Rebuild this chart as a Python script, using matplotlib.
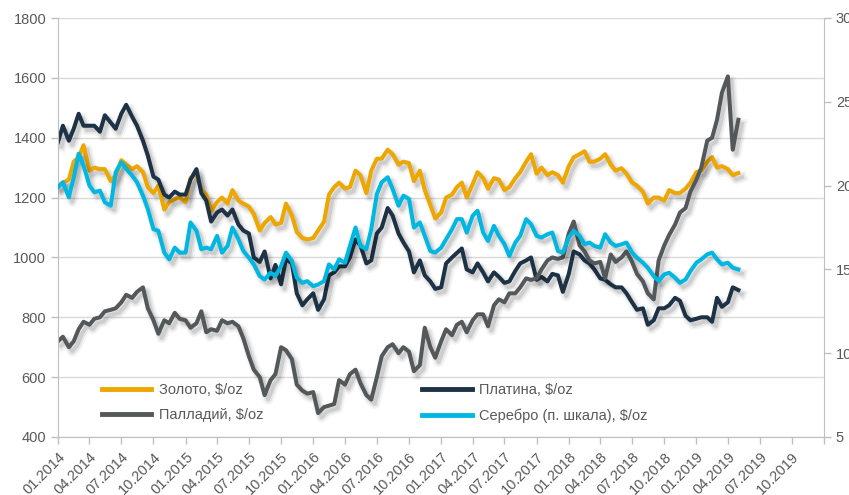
import matplotlib
matplotlib.use("Agg")
import matplotlib.pyplot as plt
import matplotlib.dates as mdates
from matplotlib import patheffects as pe
import pandas as pd

plt.rcParams['font.family'] = ['Liberation Sans', 'DejaVu Sans']

# semi-monthly observation dates (1st and 15th), Jan 2014 - May 2019
dates = pd.date_range('2014-01-01', '2019-05-01', freq='SMS')

gold = [1240, 1250, 1260, 1320, 1335, 1375, 1290, 1300, 1295, 1295, 1255, 1275,
        1325, 1310, 1295, 1305, 1285, 1235, 1215, 1240, 1160, 1185, 1195, 1200,
        1185, 1265, 1280, 1225, 1210, 1155, 1185, 1200, 1180, 1225, 1190, 1180,
        1170, 1145, 1090, 1115, 1135, 1110, 1115, 1180, 1140, 1085, 1065, 1060,
        1065, 1090, 1120, 1210, 1235, 1250, 1230, 1235, 1290, 1275, 1215, 1290,
        1330, 1330, 1360, 1345, 1310, 1320, 1315, 1255, 1290, 1225, 1175, 1130,
        1150, 1200, 1210, 1235, 1250, 1200, 1245, 1285, 1265, 1230, 1265, 1260,
        1225, 1235, 1265, 1285, 1320, 1345, 1280, 1300, 1275, 1285, 1275, 1250,
        1305, 1335, 1345, 1355, 1320, 1320, 1330, 1345, 1310, 1290, 1298, 1280,
        1250, 1240, 1220, 1180, 1200, 1200, 1190, 1225, 1215, 1215, 1230, 1250,
        1285, 1290, 1320, 1335, 1300, 1305, 1295, 1275, 1282]

platinum = [1385, 1440, 1390, 1430, 1480, 1440, 1440, 1440, 1420, 1475, 1450, 1430,
            1480, 1510, 1470, 1440, 1390, 1340, 1270, 1260, 1210, 1200, 1220, 1210,
            1210, 1260, 1295, 1215, 1190, 1120, 1150, 1160, 1140, 1160, 1110, 1090,
            1080, 1000, 985, 1020, 930, 975, 910, 995, 980, 880, 840, 860,
            880, 825, 860, 940, 950, 970, 970, 1000, 1060, 1040, 980, 990,
            1080, 1100, 1165, 1140, 1080, 1050, 1020, 950, 990, 940, 920, 895,
            900, 980, 1000, 1015, 1030, 960, 950, 980, 950, 920, 950, 935,
            915, 920, 955, 980, 990, 1000, 925, 935, 920, 945, 940, 885,
            945, 1020, 1010, 990, 980, 960, 930, 925, 910, 900, 900, 880,
            850, 825, 830, 775, 790, 830, 830, 840, 865, 855, 805, 790,
            795, 800, 800, 785, 865, 835, 850, 900, 891]

palladium = [720, 735, 700, 720, 760, 785, 775, 795, 800, 820, 825, 830,
             850, 875, 865, 885, 900, 830, 790, 745, 790, 780, 815, 795,
             790, 765, 780, 820, 750, 760, 755, 790, 780, 785, 770, 730,
             670, 625, 600, 540, 590, 610, 700, 690, 660, 575, 555, 545,
             550, 480, 500, 505, 510, 590, 575, 610, 625, 580, 540, 525,
             600, 670, 700, 710, 680, 700, 685, 620, 640, 765, 700, 665,
             720, 760, 740, 775, 785, 750, 790, 810, 810, 770, 840, 860,
             850, 880, 880, 900, 930, 925, 930, 960, 990, 1000, 995, 1000,
             1080, 1120, 1040, 1020, 990, 980, 985, 930, 1010, 985, 1000, 1020,
             985, 945, 920, 880, 860, 990, 1040, 1075, 1110, 1150, 1165, 1220,
             1260, 1300, 1390, 1400, 1460, 1550, 1605, 1360, 1460]

silver = [19.9, 20.2, 19.3, 20.5, 21.9, 21.2, 20.0, 19.6, 19.7, 19.0, 18.8, 20.8,
          21.4, 21.0, 20.6, 20.2, 19.4, 18.6, 17.4, 17.3, 16.0, 15.6, 16.3, 16.0,
          16.0, 17.8, 17.3, 16.2, 16.3, 16.2, 17.0, 16.0, 16.4, 17.5, 16.8, 16.1,
          15.7, 15.3, 14.6, 14.4, 14.8, 14.6, 15.2, 16.0, 15.5, 14.5, 14.2, 14.3,
          14.0, 14.1, 14.3, 15.3, 15.0, 15.6, 15.4, 16.4, 17.5, 16.4, 16.2, 17.4,
          19.5, 20.2, 20.5, 19.8, 18.8, 19.4, 19.2, 17.5, 17.8, 17.0, 16.1, 16.0,
          16.3, 16.8, 17.4, 18.0, 18.0, 17.2, 18.2, 18.5, 17.2, 16.7, 17.6, 17.0,
          16.5, 15.8, 16.6, 17.0, 18.0, 17.7, 17.0, 16.9, 17.1, 17.2, 16.1, 16.0,
          16.9, 17.3, 17.0, 16.5, 16.6, 16.4, 16.3, 17.1, 16.6, 16.4, 16.5, 16.6,
          16.0, 15.7, 15.4, 15.1, 14.6, 14.3, 14.7, 14.8, 14.5, 14.2, 14.4, 14.9,
          15.4, 15.6, 15.9, 16.0, 15.6, 15.3, 15.4, 15.1, 15.0]

labels = ['Золото, $/oz', 'Платина, $/oz', 'Палладий, $/oz', 'Серебро (п. шкала), $/oz']
colors = ['#EEA600', '#1E3246', '#53585B', '#00B7E1']

left_ticks = [400, 600, 800, 1000, 1200, 1400, 1600, 1800]
right_ticks = [5, 10, 15, 20, 25, 30]
x_ticks = pd.date_range('2014-01-01', '2019-10-01', freq='QS')

txt = '#595959'
axc = '#BFBFBF'
lw = 2.9

def shadow():
    return [pe.Stroke(offset=(2.5, -3), linewidth=lw + 5, foreground='k', alpha=0.04),
            pe.Stroke(offset=(2.5, -3), linewidth=lw + 2.5, foreground='k', alpha=0.06),
            pe.Stroke(offset=(2.5, -3), linewidth=lw, foreground='k', alpha=0.10),
            pe.Normal()]

fig = plt.figure(figsize=(8.49, 4.95), dpi=100)
ax = fig.add_axes([58 / 849, 1 - 437 / 495, (824 - 58) / 849, (437 - 18) / 495])
ax2 = ax.twinx()

l_gold, = ax.plot(dates, gold, color=colors[0], lw=lw, path_effects=shadow(), solid_joinstyle='round')
l_pt, = ax.plot(dates, platinum, color=colors[1], lw=lw, path_effects=shadow(), solid_joinstyle='round')
l_pd, = ax.plot(dates, palladium, color=colors[2], lw=lw, path_effects=shadow(), solid_joinstyle='round')
l_ag, = ax2.plot(dates, silver, color=colors[3], lw=lw, path_effects=shadow(), solid_joinstyle='round')

ax.set_xlim(pd.Timestamp('2014-01-01'), pd.Timestamp('2020-01-01'))
ax.set_ylim(400, 1800)
ax2.set_ylim(5, 30)
ax.set_yticks(left_ticks)
ax2.set_yticks(right_ticks)
ax.set_xticks(list(x_ticks) + [pd.Timestamp('2020-01-01')])
ax.set_xticklabels([d.strftime('%m.%Y') for d in x_ticks] + [''])

for lab in ax.get_xticklabels():
    lab.set_rotation(45)
    lab.set_ha('right')
    lab.set_va('top')
    lab.set_rotation_mode('anchor')

ax.yaxis.grid(True, color='#D9D9D9', lw=1)
ax.set_axisbelow(True)

for a in (ax, ax2):
    a.spines['top'].set_visible(False)
    for s in ('left', 'right', 'bottom'):
        a.spines[s].set_color(axc)
    a.tick_params(colors=axc, labelcolor=txt, labelsize=10.5, length=5, width=1)
ax.spines['right'].set_visible(False)
ax2.spines['left'].set_visible(False)
ax2.spines['bottom'].set_visible(False)
ax.tick_params(axis='x', labelsize=10.5, pad=4)

leg = ax2.legend([l_gold, l_pd, l_pt, l_ag], [labels[0], labels[2], labels[1], labels[3]],
                 ncol=2, loc='upper left', bbox_to_anchor=(0.057, 0.128), frameon=False,
                 fontsize=10.5, handlelength=3.4, handletextpad=0.5, columnspacing=10.9,
                 labelspacing=0.75, borderpad=0, borderaxespad=0)
for t in leg.get_texts():
    t.set_color(txt)
for h in leg.legend_handles:
    h.set_linewidth(3.5)
    h.set_path_effects([])

fig.savefig('out.png', dpi=100)
